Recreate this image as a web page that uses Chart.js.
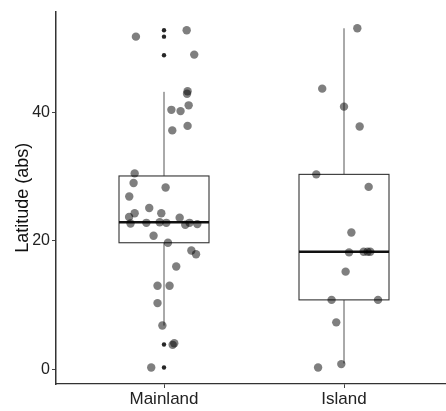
<!DOCTYPE html>
<html>
<head>
<meta charset="utf-8">
<script src="https://cdn.jsdelivr.net/npm/chart.js@4/dist/chart.umd.min.js"></script>
<style>
  body { margin: 0; background: #fff; }
  #wrap { width: 446px; height: 411px; }
</style>
</head>
<body>
<div id="wrap"><canvas id="boxChart" width="446" height="411"></canvas></div>
<script>
const categories = ["Mainland", "Island"];

// box statistics per category
const q1 = [19.7, 10.8];
const median = [22.9, 18.3];
const q3 = [30.1, 30.35];
const whiskerLow = [6.8, 0.9];
const whiskerHigh = [43.2, 53.1];
const boxWidth = 0.5;

// outliers (Mainland only)
const mainlandOutliers = [52.8, 51.8, 48.9, 3.85, 0.26];

// jittered observations: latitude and horizontal jitter (category units)
const mainlandLat = [51.8, 52.8, 49.0, 43.3, 42.9, 41.1, 40.4, 40.2, 37.9, 37.2,
  30.5, 29.0, 28.3, 26.9, 25.1, 24.3, 23.7, 24.3, 22.7, 22.8,
  22.9, 22.8, 23.6, 22.5, 22.8, 22.6, 20.8, 19.7, 18.5, 17.9,
  16.0, 13.0, 13.0, 10.3, 6.8, 3.8, 4.05, 0.26];
const mainlandJitter = [-0.156, 0.126, 0.168, 0.131, 0.128, 0.137, 0.041, 0.092, 0.131, 0.046,
  -0.163, -0.169, 0.009, -0.193, -0.082, -0.163, -0.194, -0.015, -0.186, -0.098,
  -0.024, 0.013, 0.087, 0.118, 0.142, 0.185, -0.058, 0.022, 0.152, 0.178,
  0.068, -0.036, 0.031, -0.036, -0.009, 0.048, 0.057, -0.071];

const islandLat = [53.1, 43.7, 40.9, 37.8, 30.35, 28.4, 21.3, 18.2, 18.3, 18.3,
  18.3, 15.2, 10.8, 10.8, 7.3, 0.8, 0.26];
const islandJitter = [0.074, -0.121, 0, 0.087, -0.154, 0.137, 0.041, 0.028, 0.109, 0.131,
  0.146, 0.009, -0.069, 0.189, -0.043, -0.015, -0.144];

const yTicks = [0, 20, 40];

function toPoints(lat, jitter, pos) {
  return lat.map((v, i) => ({ x: pos + jitter[i], y: v }));
}

const boxPlugin = {
  id: "boxes",
  beforeDatasetsDraw(chart) {
    const { ctx, scales: { x, y } } = chart;
    ctx.save();
    categories.forEach((c, i) => {
      const pos = i + 1;
      const left = x.getPixelForValue(pos - boxWidth / 2);
      const right = x.getPixelForValue(pos + boxWidth / 2);
      const cx = x.getPixelForValue(pos);
      const top = y.getPixelForValue(q3[i]);
      const bottom = y.getPixelForValue(q1[i]);

      ctx.strokeStyle = "#555";
      ctx.lineWidth = 1;
      ctx.beginPath();
      ctx.moveTo(cx, top);
      ctx.lineTo(cx, y.getPixelForValue(whiskerHigh[i]));
      ctx.moveTo(cx, bottom);
      ctx.lineTo(cx, y.getPixelForValue(whiskerLow[i]));
      ctx.stroke();

      ctx.fillStyle = "#fff";
      ctx.fillRect(left, top, right - left, bottom - top);
      ctx.strokeStyle = "#333";
      ctx.lineWidth = 1.1;
      ctx.strokeRect(left, top, right - left, bottom - top);

      ctx.lineWidth = 2.4;
      ctx.strokeStyle = "#111";
      ctx.beginPath();
      const m = y.getPixelForValue(median[i]);
      ctx.moveTo(left, m);
      ctx.lineTo(right, m);
      ctx.stroke();
    });
    ctx.restore();
  }
};

const ctx = document.getElementById("boxChart").getContext("2d");
const chart = new Chart(ctx, {
  type: "scatter",
  data: {
    datasets: [
      {
        label: "outliers",
        data: mainlandOutliers.map((v) => ({ x: 1, y: v })),
        backgroundColor: "rgba(0,0,0,0.85)",
        borderWidth: 0,
        pointRadius: 2.2,
      },
      {
        label: categories[0],
        data: toPoints(mainlandLat, mainlandJitter, 1),
        backgroundColor: "rgba(0,0,0,0.5)",
        borderWidth: 0,
        pointRadius: 4.2,
      },
      {
        label: categories[1],
        data: toPoints(islandLat, islandJitter, 2),
        backgroundColor: "rgba(0,0,0,0.5)",
        borderWidth: 0,
        pointRadius: 4.2,
      },
    ],
  },
  options: {
    responsive: false,
    animation: false,
    layout: { autoPadding: false, padding: { top: 7, right: 0, left: 1, bottom: 0 } },
    plugins: { legend: { display: false }, tooltip: { enabled: false } },
    scales: {
      x: {
        type: "linear",
        min: 0.4,
        max: 0.4 + 390 / 180,
        afterBuildTicks: (scale) => { scale.ticks = categories.map((c, i) => ({ value: i + 1 })); },
        afterFit: (scale) => { scale.height = 27; },
        ticks: {
          callback: (v) => categories[v - 1],
          font: { family: "Liberation Sans, Arial", size: 17 },
          color: "#222",
          padding: 1,
        },
        grid: { drawOnChartArea: false, drawTicks: true, tickLength: 4, color: "#444" },
        border: { display: true, color: "#333", width: 1.3 },
      },
      y: {
        min: -2.3,
        max: 55.7,
        afterBuildTicks: (scale) => { scale.ticks = yTicks.map((v) => ({ value: v })); },
        afterFit: (scale) => { scale.width = 55; },
        ticks: {
          font: { family: "Liberation Sans, Arial", size: 16 },
          color: "#222",
          padding: 2,
        },
        grid: { drawOnChartArea: false, drawTicks: true, tickLength: 4, color: "#444" },
        border: { display: true, color: "#333", width: 1.5 },
        title: {
          display: true,
          text: "Latitude (abs)",
          font: { family: "Liberation Sans, Arial", size: 18 },
          color: "#111",
          padding: { top: 11, bottom: 0 },
        },
      },
    },
  },
  plugins: [boxPlugin],
});
</script>
</body>
</html>
